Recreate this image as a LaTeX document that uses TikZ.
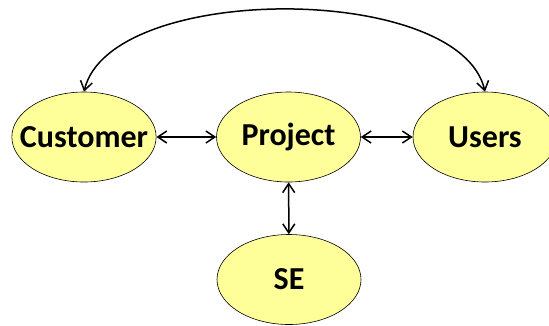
\documentclass[tikz,border=0pt]{standalone}
\usepackage{fontspec}
\setmainfont{Carlito}
\usetikzlibrary{arrows.meta,shapes.geometric}

\tikzset{
  party/.style={ellipse, draw=black, line width=0.6pt, fill=partyfill,
    minimum width=144pt, minimum height=90pt, inner sep=-13pt,
    font=\bfseries\fontsize{32}{36}\selectfont},
  link/.style={line width=1.5pt, {Straight Barb[length=9pt,width=12pt]}-{Straight Barb[length=9pt,width=12pt]}}
}
\definecolor{partyfill}{RGB}{255,255,153}

\begin{document}
\begin{tikzpicture}[x=1pt,y=-1pt]
\useasboundingbox (0,0) rectangle (549,325);

\node[party] (customer) at (84,137) {Customer};
\node[party] (project) at (288.5,137) {Project};
\node[party] (users) at (485,137) {Users};
\node[party] (se) at (289,279.5) {SE};

\draw[link] (customer) -- (project);
\draw[link] (project) -- (users);
\draw[link] (project) -- (se);
% long way round, customer to users
\draw[link] (customer.north) .. controls (110,-18) and (460,-18) .. (users.north);
\end{tikzpicture}
\end{document}
